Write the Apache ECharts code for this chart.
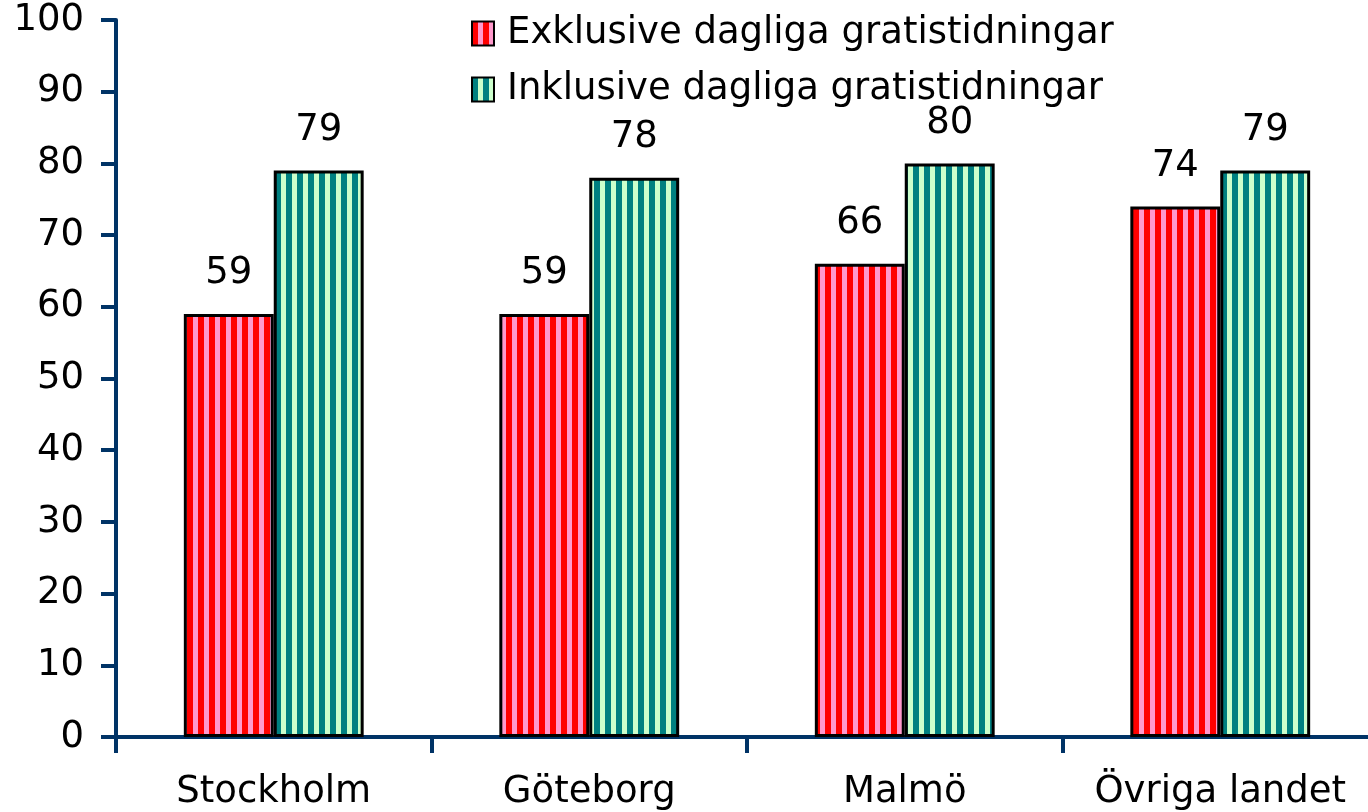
<!DOCTYPE html>
<html>
<head>
<meta charset="utf-8">
<script src="https://cdn.jsdelivr.net/npm/echarts@6/dist/echarts.min.js"></script>
<style>
  html, body { margin: 0; padding: 0; background: #fff; }
  #chart { width: 1368px; height: 812px; }
</style>
</head>
<body>
<div id="chart"></div>
<script>
// data
const categories = ['Stockholm', 'Göteborg', 'Malmö', 'Övriga landet'];
const exklusive = [59, 59, 66, 74];
const inklusive = [79, 78, 80, 79];
const seriesNames = ['Exklusive dagliga gratistidningar', 'Inklusive dagliga gratistidningar'];

// vertical stripe pattern
function stripes(c1, c2) {
  const cv = document.createElement('canvas');
  cv.width = 11;
  cv.height = 10;
  const ctx = cv.getContext('2d');
  ctx.fillStyle = c1;
  ctx.fillRect(0, 0, 6, 10);
  ctx.fillStyle = c2;
  ctx.fillRect(6, 0, 5, 10);
  return { image: cv, repeat: 'repeat' };
}

const axisColor = '#003366';
const font = 'DejaVu Sans';
const fs = 37;

const chart = echarts.init(document.getElementById('chart'));
chart.setOption({
  animation: false,
  textStyle: { fontFamily: font },
  grid: { left: 116, width: 1262, top: 20, bottom: 75, outerBoundsMode: 'none', containLabel: false },
  legend: {
    orient: 'vertical',
    left: 466,
    top: 10,
    icon: 'rect',
    itemWidth: 22,
    itemHeight: 24,
    itemGap: 19,
    textStyle: { fontSize: fs, lineHeight: 36, color: '#000', fontFamily: font, padding: [0, 0, 0, 8] },
    data: seriesNames
  },
  xAxis: {
    type: 'category',
    data: categories,
    axisLine: { lineStyle: { color: axisColor, width: 4 } },
    axisTick: { show: true, interval: 0, length: 16, lineStyle: { color: axisColor, width: 4 } },
    axisLabel: { interval: 0, fontSize: fs, color: '#000', margin: 37 }
  },
  yAxis: {
    type: 'value',
    min: 0,
    max: 100,
    interval: 10,
    axisLine: { show: true, lineStyle: { color: axisColor, width: 4 } },
    axisTick: { show: true, length: 15, lineStyle: { color: axisColor, width: 4 } },
    splitLine: { show: false },
    axisLabel: { fontSize: fs, color: '#000', margin: 32 }
  },
  series: [
    {
      name: seriesNames[0],
      type: 'bar',
      data: exklusive,
      barGap: '0%',
      barCategoryGap: '43%',
      itemStyle: { color: stripes('#FF0000', '#FF99CC'), borderColor: '#000', borderWidth: 3 },
      label: { show: true, position: 'top', distance: 22, fontSize: fs, color: '#000' }
    },
    {
      name: seriesNames[1],
      type: 'bar',
      data: inklusive,
      itemStyle: { color: stripes('#008080', '#CCFFCC'), borderColor: '#000', borderWidth: 3 },
      label: { show: true, position: 'top', distance: 22, fontSize: fs, color: '#000' }
    }
  ]
});
</script>
</body>
</html>
